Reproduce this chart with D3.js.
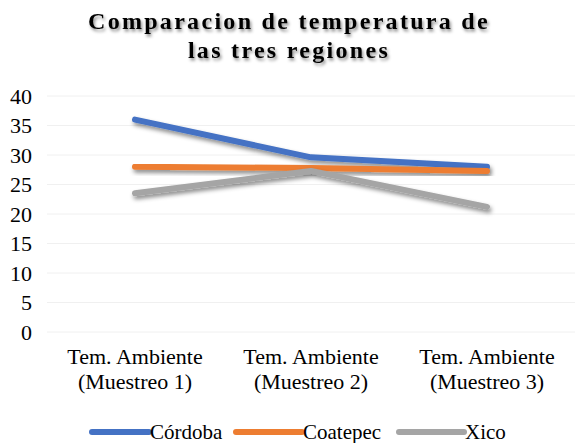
<!DOCTYPE html>
<html>
<head>
<meta charset="utf-8">
<script src="https://cdn.jsdelivr.net/npm/d3@7"></script>
<style>
  html, body { margin: 0; padding: 0; background: #fff; }
  svg { display: block; }
  svg text { font-family: 'Liberation Serif', 'Times New Roman', serif; }
</style>
</head>
<body>
<svg id="chart" width="576" height="443"></svg>
<script>
// Temperature readings per sampling
const categories = ["Tem. Ambiente (Muestreo 1)", "Tem. Ambiente (Muestreo 2)", "Tem. Ambiente (Muestreo 3)"];
const seriesNames = ["Córdoba", "Coatepec", "Xico"];
const cordoba = [36, 29.6, 28];
const coatepec = [28, 27.8, 27.3];
const xico = [23.5, 27.3, 21.2];
const yTicks = [0, 5, 10, 15, 20, 25, 30, 35, 40];
const colors = ["#4472C4", "#ED7D31", "#A5A5A5"];

const series = [cordoba, coatepec, xico].map((v, i) => ({ name: seriesNames[i], values: v, color: colors[i] }));

const svg = d3.select("#chart");
const W = 576, H = 443;
const margin = { left: 47, right: 1, top: 96, bottom: 111 };
const serif = "'Liberation Serif', 'Times New Roman', serif";

const defs = svg.append("defs");
const sh = defs.append("filter").attr("id", "shadow")
  .attr("x", "-10%").attr("y", "-50%").attr("width", "130%").attr("height", "250%");
sh.append("feDropShadow").attr("dx", 1.5).attr("dy", 3).attr("stdDeviation", 2)
  .attr("flood-color", "#000").attr("flood-opacity", 0.45);
const tsh = defs.append("filter").attr("id", "tshadow")
  .attr("x", "-5%").attr("y", "-30%").attr("width", "110%").attr("height", "170%");
tsh.append("feDropShadow").attr("dx", 1.5).attr("dy", 2.5).attr("stdDeviation", 1.5)
  .attr("flood-color", "#000").attr("flood-opacity", 0.45);

const x = d3.scaleBand().domain(categories).range([margin.left, W - margin.right]);
const y = d3.scaleLinear().domain([0, 40]).range([H - margin.bottom, margin.top]);

// Title
const title = svg.append("text")
  .attr("text-anchor", "middle")
  .style("font-family", serif)
  .attr("font-weight", "bold")
  .attr("font-size", 24)
  .attr("letter-spacing", 2.3)
  .attr("fill", "#000")
  .attr("filter", "url(#tshadow)");
title.append("tspan").attr("x", 289).attr("y", 29).text("Comparacion de temperatura de");
title.append("tspan").attr("x", 289).attr("y", 58).text("las tres regiones");

// Gridlines
svg.append("g")
  .selectAll("line").data(yTicks).join("line")
  .attr("x1", margin.left).attr("x2", W - margin.right)
  .attr("y1", d => y(d)).attr("y2", d => y(d))
  .attr("stroke", "#f0f0f0").attr("stroke-width", 1);

// Y axis labels
const yAxis = d3.axisLeft(y).tickValues(yTicks).tickSize(0).tickPadding(0);
svg.append("g")
  .attr("transform", `translate(32,0)`)
  .call(yAxis)
  .attr("font-family", null)
  .call(g => g.select(".domain").remove())
  .call(g => g.selectAll("text")
    .style("font-family", serif)
    .attr("font-size", 22).attr("fill", "#000"));

// X axis labels (two lines)
const xAxis = d3.axisBottom(x).tickSize(0).tickFormat("");
const gx = svg.append("g").attr("transform", `translate(0,${H - margin.bottom})`).call(xAxis);
gx.attr("font-family", null);
gx.select(".domain").remove();
gx.selectAll(".tick").each(function(d) {
  const parts = d.split(" (");
  const t = d3.select(this).append("text")
    .attr("text-anchor", "middle")
    .style("font-family", serif)
    .attr("font-size", 22).attr("fill", "#000");
  t.append("tspan").attr("x", 0).attr("y", 32).text(parts[0]);
  t.append("tspan").attr("x", 0).attr("y", 57).text("(" + parts[1]);
});

// Lines
const line = d3.line()
  .x((d, i) => x(categories[i]) + x.bandwidth() / 2)
  .y(d => y(d));

svg.append("g").selectAll("path").data(series).join("path")
  .attr("d", d => line(d.values))
  .attr("fill", "none")
  .attr("stroke", d => d.color)
  .attr("stroke-width", 6)
  .attr("stroke-linecap", "round")
  .attr("stroke-linejoin", "round")
  .attr("filter", "url(#shadow)");

// Legend
const legendItems = [
  { x1: 92, x2: 149, tx: 150 },
  { x1: 236, x2: 302, tx: 303 },
  { x1: 399, x2: 464, tx: 465 }
];
const lg = svg.append("g");
series.forEach((s, i) => {
  const p = legendItems[i];
  lg.append("line")
    .attr("x1", p.x1).attr("x2", p.x2).attr("y1", 432).attr("y2", 432)
    .attr("stroke", s.color).attr("stroke-width", 6).attr("stroke-linecap", "round");
  lg.append("text")
    .attr("x", p.tx).attr("y", 439)
    .style("font-family", serif)
    .attr("font-size", 21).attr("fill", "#000")
    .text(s.name);
});
</script>
</body>
</html>
